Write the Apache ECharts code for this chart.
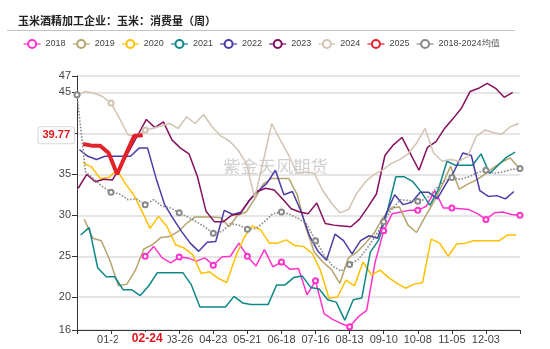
<!DOCTYPE html>
<html><head><meta charset="utf-8">
<script src="https://cdn.jsdelivr.net/npm/echarts@6/dist/echarts.min.js"></script>
<style>html,body{margin:0;padding:0;background:#fff}#c{width:550px;height:349px}</style>
</head><body><div id="c"></div>
<script>
const chartTitle = '玉米酒精加工企业：玉米：消费量（周）';
const watermarkText = '紫金天风期货';
const highlightDate = '02-24';

// weekly values (each series: date of first value, then one value per week)
const start2018 = '2018-02-26';
const v2018 = [25.0,26.2,24.8,24.2,24.9,24.8,24.4,24.8,23.9,24.9,25.0,26.6,25.0,23.8,25.8,23.7,24.3,23.4,23.5,20.3,22.0,18.0,17.3,16.8,16.4,17.6,18.4,24.3,28.1,30.2,30.4,30.6,30.6,31.1,33.0,30.9,30.9,30.8,30.7,30.2,29.5,30.3,30.4,30.1,30.0];
const start2019 = '2019-01-07';
const v2019 = [29.5,27.2,26.9,24.5,21.4,21.6,23.3,25.9,26.4,27.3,27.4,28.0,29.0,29.8,29.8,29.8,29.7,28.6,30.0,30.4,32.0,33.8,34.5,34.5,34.5,32.5,28.5,25.5,24.3,23.4,21.7,24.8,25.5,26.6,27.8,29.6,30.9,31.0,28.8,27.9,29.8,31.6,33.7,36.0,33.2,33.8,34.3,35.0,35.8,36.5,37.0,35.8];
const start2020 = '2020-01-06';
const v2020 = [36.4,35.9,34.5,34.6,35.5,33.8,32.4,30.3,28.4,29.9,28.6,26.4,26.0,25.2,22.9,23.1,22.3,21.8,24.8,27.2,28.7,28.2,26.6,26.6,27.0,26.3,26.2,25.4,23.3,19.9,20.0,22.1,21.4,24.3,22.7,23.3,22.4,21.7,21.1,21.6,21.8,27.1,26.6,25.0,26.5,26.6,26.9,26.9,26.9,26.9,27.6,27.6];
const start2021 = '2021-01-04';
const v2021 = [27.6,28.5,23.6,22.5,22.5,20.9,20.9,20.2,21.4,23.0,23.0,23.0,23.0,21.5,18.8,18.8,18.8,18.8,20.1,19.3,19.1,19.1,19.1,21.5,21.5,22.4,22.6,21.2,21.0,19.7,19.4,17.2,19.7,19.9,25.5,27.0,30.5,34.7,34.7,34.1,32.8,31.2,33.2,36.6,36.1,36.1,36.1,37.5,35.1,36.1,37.1,37.7];
const start2022 = '2022-01-03';
const v2022 = [38.0,37.2,36.8,37.2,37.2,37.2,37.2,38.2,38.2,34.5,31.3,29.6,28.0,26.6,25.6,26.7,26.8,30.6,30.1,30.4,31.9,33.0,33.9,35.5,32.5,32.9,30.5,27.5,25.6,24.5,27.7,26.9,25.3,26.9,27.5,27.2,30.2,32.5,31.3,31.6,32.8,32.8,32.0,33.8,35.4,37.6,37.3,33.0,32.3,32.4,32.0,32.9];
const start2023 = '2023-01-02';
const v2023 = [33.3,35.0,34.1,34.4,34.3,36.0,37.9,39.8,41.7,40.7,41.4,39.2,38.2,37.5,34.7,30.5,29.2,29.2,30.0,30.2,31.7,32.9,33.3,33.1,32.0,30.8,30.4,30.2,31.5,29.0,28.8,28.7,28.6,29.5,31.0,32.6,37.3,38.6,39.5,37.5,35.5,38.3,39.0,40.6,41.8,43.1,45.1,45.5,46.1,45.5,44.4,45.0];
const start2024 = '2024-01-01';
const v2024 = [44.7,45.1,44.9,44.5,43.7,41.8,39.8,39.7,40.4,40.6,40.9,41.2,40.6,42.0,41.2,42.3,40.8,39.7,39.1,38.0,36.4,32.1,36.6,41.2,39.2,37.3,35.1,35.3,35.1,33.0,31.5,30.3,30.7,32.7,34.1,35.0,35.5,36.3,36.8,37.5,38.8,40.6,37.6,36.6,36.8,36.6,37.2,39.6,40.4,40.1,39.9,40.8,41.2];
const start2025 = '2025-01-06';
const v2025 = [38.7,38.5,38.5,37.6,35.0,37.4,39.7,39.77];
const startAvg = '2018-01-01';
const vAvg = [44.7,35.3,34.4,33.5,32.8,32.6,31.9,32.0,31.3,31.9,31.1,30.9,30.3,29.8,29.2,28.6,27.8,28.0,29.0,28.8,28.3,28.4,29.2,30.2,30.4,30.1,29.6,28.9,26.9,25.2,23.8,23.2,24.0,24.6,25.9,27.4,29.2,30.8,31.9,31.8,31.7,32.0,33.1,34.1,34.6,34.4,34.7,35.2,35.5,35.1,35.3,35.6,35.7];

const seriesNames = ['2018','2019','2020','2021','2022','2023','2024','2025','2018-2024均值'];
const seriesColors = ['#ff33cc','#b5a46b','#ffc000','#0e8787','#4b3ca6','#86105e','#d3c4b2','#e3232a','#8a8a8a'];

function mmdd(d){ return String(d.getUTCMonth()+1).padStart(2,'0')+'-'+String(d.getUTCDate()).padStart(2,'0'); }
const DAY = 86400000;
const categories = [];
for (let t = Date.UTC(2025,0,1); t < Date.UTC(2026,0,1); t += DAY) categories.push(mmdd(new Date(t)));
function weekly(start, values){
  const t0 = Date.parse(start + 'T00:00:00Z');
  return values.map((v,i) => [mmdd(new Date(t0 + i*7*DAY)), v]);
}
const seriesData = [
  weekly(start2018, v2018), weekly(start2019, v2019), weekly(start2020, v2020),
  weekly(start2021, v2021), weekly(start2022, v2022), weekly(start2023, v2023),
  weekly(start2024, v2024), weekly(start2025, v2025), weekly(startAvg, vAvg)
];
const lastValue = v2025[v2025.length-1];

const chart = echarts.init(document.getElementById('c'), null, {renderer:'canvas'});
const series = seriesNames.map((name, i) => {
  const s = {
    name, type:'line', data: seriesData[i], symbol:'emptyCircle', symbolSize:5,
    color: seriesColors[i],
    lineStyle:{ width: 1.5, color: seriesColors[i] },
    itemStyle:{ color: seriesColors[i] },
    emphasis:{ disabled:true }, clip:false
  };
  if (name === '2025') {
    s.lineStyle.width = 4;
    s.markLine = {
      silent:true, symbol:'none', animation:false,
      lineStyle:{ color:'rgba(0,0,0,0)', width:0, opacity:1 },
      data:[
        { yAxis: lastValue, label:{ show:true, position:'start', distance:3, formatter:String(lastValue), opacity:1,
          color:'#e0161e', fontWeight:'bold', fontSize:11, fontFamily:'Arial',
          backgroundColor:'#fff', borderColor:'#d8d8d8', borderWidth:1, borderRadius:2, padding:[3,4,2,4] } },
        { xAxis: highlightDate, label:{ show:true, position:'start', distance:2, formatter:highlightDate, opacity:1,
          color:'#e0161e', fontWeight:'bold', fontSize:12, fontFamily:'Arial',
          backgroundColor:'#fff', padding:[1,5,1,14] } }
      ]
    };
  }
  if (i === 8) { s.lineStyle.type = 'dotted'; s.lineStyle.width = 1.6; }
  return s;
});

chart.setOption({
  animation:false,
  backgroundColor:'#fff',
  title:{ text: chartTitle, left:13, top:10,
    textStyle:{ fontSize:11, fontWeight:'bold', color:'#222', fontFamily:'Noto Sans CJK SC' } },
  legend:{ data: seriesNames, left:18, top:34, itemWidth:17, itemHeight:10, itemGap:6.5,
    textStyle:{ fontSize:9, color:'#444', fontFamily:'Arial' },
    lineStyle:{ width:1.2, type:'solid' } },
  grid:{ left:77, right:30, top:76, bottom:19 },
  xAxis:{ type:'category', data: categories, boundaryGap:false,
    axisLine:{ lineStyle:{ color:'#333', width:1 } },
    axisTick:{ interval:27, length:4, lineStyle:{ color:'#333' } },
    axisLabel:{ interval:27, margin:4, fontSize:11, color:'#444', fontFamily:'Arial',
      formatter:(v, idx) => (idx === 0 || idx === categories.length-1) ? '' : v },
    splitLine:{ show:false } },
  yAxis:{ type:'value', min:16, max:47,
    axisLine:{ show:true, lineStyle:{ color:'#333', width:1 } },
    axisTick:{ show:true, length:5, lineStyle:{ color:'#333' } },
    axisLabel:{ margin:6, fontSize:11, color:'#444', fontFamily:'Arial' },
    splitLine:{ lineStyle:{ color:'#dedede', width:1.5 } } },
  graphic:[
    { type:'line', silent:true, shape:{ x1:7, y1:30.5, x2:515, y2:30.5 }, style:{ stroke:'#c4c4c4', lineWidth:1 } },
    { type:'text', silent:true, left:223, top:158, z:0,
      style:{ text: watermarkText, fontSize:17.5, fill:'rgba(150,150,150,0.45)', fontFamily:'Noto Sans CJK SC' } }
  ],
  series
});
</script></body></html>
